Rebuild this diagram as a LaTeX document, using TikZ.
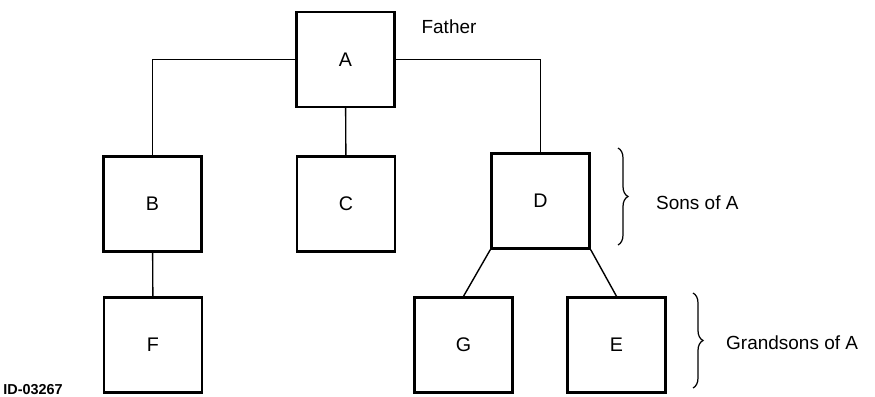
\documentclass[tikz,border=0pt]{standalone}
\usepackage{fontspec}
\setmainfont{Liberation Sans}
\usetikzlibrary{decorations.pathreplacing}
\begin{document}
\begin{tikzpicture}[x=0.02cm,y=-0.02cm,
        box/.style={draw,line width=1.4pt,minimum width=1.96cm,minimum height=1.9cm,
            font=\fontsize{11.2}{13}\selectfont},
        txt/.style={font=\fontsize{10.8}{13}\selectfont},
        link/.style={line width=0.8pt},
        curly/.style={decorate,decoration={brace,amplitude=0.2cm},line width=0.7pt}]
                \useasboundingbox (0,0) rectangle (875,396);
                \node[box] (A) at (345.5,59.5) {A};% Father
                \node[txt] (father) at (449,27) {Father};
                \node[box] (B) at (152.5,204) {B};% Sons
                \node[box] (C) at (346,204) {C};
                \node[box] (D) at (540.5,201) {D};
                \node[box] (F) at (153,345) {F};% Grandsons
                \node[box] (G) at (463.5,345) {G};
                \node[box] (E) at (616.5,345) {E};
                \draw[link] (A.west) -| (B.north);
                \draw[link] (A.east) -| (D.north);
                \draw[link] (A) -- (C);
                \draw[link] (B) -- (F);
                \draw[link] (D.south west) -- (G.north);
                \draw[link] (D.south east) -- (E.north);
                % braces
                \coordinate (sonstop) at (618,148);
                \coordinate (sonsbot) at (618,245);
                \coordinate (grandtop) at (693,293);
                \coordinate (grandbot) at (693,388);
                \draw[curly] (sonstop) -- (sonsbot);
                \draw[curly] (grandtop) -- (grandbot);
                \node[txt,anchor=west] (sons) at (650,203) {Sons of A};
                \node[txt,anchor=west] (grandsons) at (720,343) {Grandsons of A};
                \node[font=\fontsize{8.2}{9}\bfseries,anchor=base west,inner sep=0pt] (id) at (3,394) {ID-03267};
            \end{tikzpicture}
\end{document}
